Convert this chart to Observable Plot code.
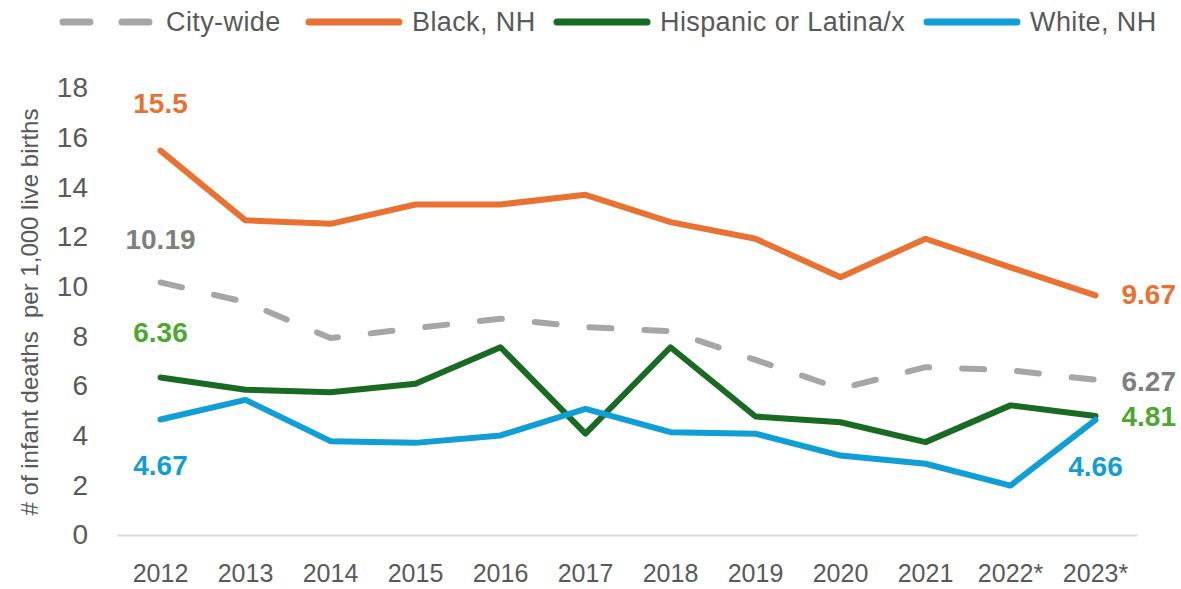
<!DOCTYPE html>
<html>
<head>
<meta charset="utf-8">
<script src="https://cdn.jsdelivr.net/npm/d3@7"></script>
<script src="https://cdn.jsdelivr.net/npm/@observablehq/plot@0.6"></script>
<style>
  html, body { margin: 0; padding: 0; background: #fff; }
  body { width: 1181px; height: 589px; overflow: hidden; font-family: "Liberation Sans", Arial, sans-serif; }
  #legend { height: 36px; display: flex; align-items: flex-start; color: #595959; font-size: 27px; line-height: 30px; padding-left: 59px; padding-top: 7px; box-sizing: border-box; letter-spacing: 0.4px; }
  #legend .item { display: flex; align-items: center; flex: none; height: 30px; }
  #legend svg { margin-right: 9px; flex: none; }
  #chart svg { display: block; }
</style>
</head>
<body>
<div id="legend"></div>
<div id="chart"></div>
<script>
const years = ["2012","2013","2014","2015","2016","2017","2018","2019","2020","2021","2022*","2023*"];
const seriesNames = ["City-wide", "Black, NH", "Hispanic or Latina/x", "White, NH"];
const cityWide = [10.19, 9.40, 7.95, 8.35, 8.73, 8.39, 8.23, 7.07, 5.91, 6.78, 6.65, 6.27];
const blackNH  = [15.5, 12.69, 12.55, 13.33, 13.33, 13.72, 12.62, 11.95, 10.40, 11.95, 10.80, 9.67];
const hispanic = [6.36, 5.87, 5.77, 6.11, 7.58, 4.10, 7.58, 4.79, 4.56, 3.76, 5.24, 4.81];
const whiteNH  = [4.67, 5.46, 3.80, 3.73, 4.03, 5.10, 4.16, 4.10, 3.22, 2.89, 2.01, 4.66];
const yTicks = [0, 2, 4, 6, 8, 10, 12, 14, 16, 18];
const yTitle = "# of infant deaths  per 1,000 live births";

const lineColors = ["#A6A6A6", "#E97132", "#196B24", "#0F9ED5"];
const labelColors = ["#7F7F7F", "#E97132", "#4EA72E", "#0F9ED5"];
const valuesBySeries = [cityWide, blackNH, hispanic, whiteNH];
const legendItemWidths = [246, 248, 370, 240];

const rows = [];
seriesNames.forEach((s, i) => years.forEach((y, j) => rows.push({series: s, year: y, value: valuesBySeries[i][j]})));
const bySeries = s => rows.filter(d => d.series === s);
const first = s => rows.filter(d => d.series === s && d.year === years[0]);
const last = s => rows.filter(d => d.series === s && d.year === years[years.length - 1]);

// Legend
const legend = d3.select("#legend");
seriesNames.forEach((s, i) => {
  const item = legend.append("div").attr("class", "item").style("width", legendItemWidths[i] + "px");
  const sw = item.append("svg").attr("width", 98).attr("height", 12);
  sw.append("line").attr("x1", 4).attr("x2", 94).attr("y1", 6).attr("y2", 6)
    .attr("stroke", lineColors[i]).attr("stroke-width", 7).attr("stroke-linecap", "round")
    .attr("stroke-dasharray", i === 0 ? "27,32" : null);
  item.append("span").text(s);
});

const font = "Liberation Sans, Arial, sans-serif";
const labelStyle = {fontSize: 28, fontWeight: "bold"};

const marks = [
  Plot.ruleY([0], {stroke: "#D9D9D9", strokeWidth: 2}),
  Plot.line(bySeries(seriesNames[0]), {x: "year", y: "value", stroke: lineColors[0], strokeWidth: 6, strokeDasharray: "22,33", strokeLinecap: "round"}),
  Plot.line(bySeries(seriesNames[1]), {x: "year", y: "value", stroke: lineColors[1], strokeWidth: 6, strokeLinecap: "round"}),
  Plot.line(bySeries(seriesNames[2]), {x: "year", y: "value", stroke: lineColors[2], strokeWidth: 6, strokeLinecap: "round"}),
  Plot.line(bySeries(seriesNames[3]), {x: "year", y: "value", stroke: lineColors[3], strokeWidth: 6, strokeLinecap: "round"}),
  // first-year labels
  Plot.text(first(seriesNames[0]), {x: "year", y: "value", text: d => String(d.value), fill: labelColors[0], dy: -42, ...labelStyle}),
  Plot.text(first(seriesNames[1]), {x: "year", y: "value", text: d => String(d.value), fill: labelColors[1], dy: -47, ...labelStyle}),
  Plot.text(first(seriesNames[2]), {x: "year", y: "value", text: d => String(d.value), fill: labelColors[2], dy: -45, ...labelStyle}),
  Plot.text(first(seriesNames[3]), {x: "year", y: "value", text: d => String(d.value), fill: labelColors[3], dy: 47, ...labelStyle}),
  // last-year labels
  Plot.text(last(seriesNames[0]), {x: "year", y: "value", text: d => String(d.value), fill: labelColors[0], dx: 26, dy: 2, textAnchor: "start", ...labelStyle}),
  Plot.text(last(seriesNames[1]), {x: "year", y: "value", text: d => String(d.value), fill: labelColors[1], dx: 26, dy: 0, textAnchor: "start", ...labelStyle}),
  Plot.text(last(seriesNames[2]), {x: "year", y: "value", text: d => String(d.value), fill: labelColors[2], dx: 26, dy: 1, textAnchor: "start", ...labelStyle}),
  Plot.text(last(seriesNames[3]), {x: "year", y: "value", text: d => String(d.value), fill: labelColors[3], dy: 47, ...labelStyle}),
  // axes
  Plot.axisY({ticks: yTicks, tickSize: 0, tickPadding: 30, fontSize: 28, label: null, tickFormat: d => String(d)}),
  Plot.axisX({tickSize: 0, tickPadding: 29, fontSize: 25, label: null}),
  Plot.text([yTitle], {frameAnchor: "left", rotate: -90, dx: -88, dy: 0, textAnchor: "middle", fontSize: 24, fill: "#595959", letterSpacing: "1.4px"})
];

const chart = Plot.plot({
  width: 1181,
  height: 553,
  marginLeft: 117.5,
  marginRight: 43.5,
  marginTop: 52,
  marginBottom: 54,
  style: {fontFamily: font, color: "#595959", background: "#fff", overflow: "visible"},
  x: {type: "point", domain: years, padding: 0.5},
  y: {domain: [0, 18]},
  marks
});
document.getElementById("chart").appendChild(chart);
</script>
</body>
</html>
